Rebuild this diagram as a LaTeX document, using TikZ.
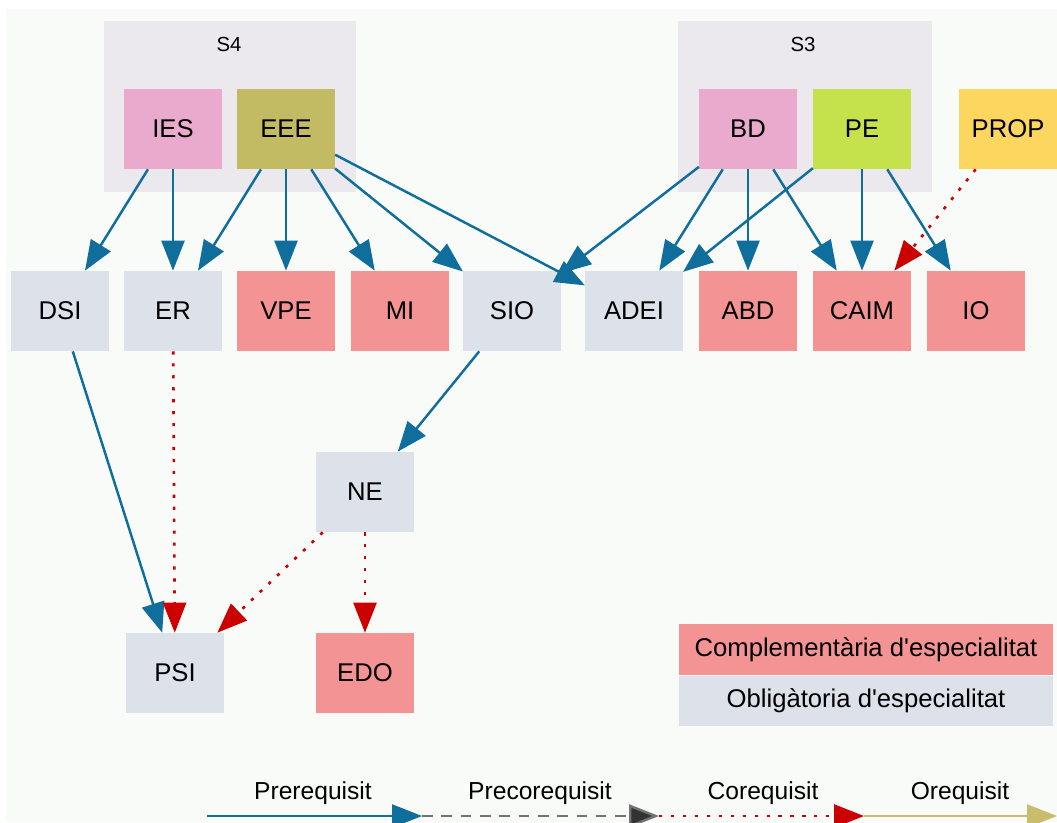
\documentclass[tikz,border=0pt]{standalone}
\usepackage{fontspec}
\setmainfont{Liberation Sans}
\usetikzlibrary{arrows.meta,positioning}
\definecolor{bgcol}{RGB}{249,251,249}
\definecolor{clustcol}{RGB}{235,233,237}
\definecolor{pinkcol}{RGB}{234,170,205}
\definecolor{olivecol}{RGB}{195,186,100}
\definecolor{greencol}{RGB}{197,225,75}
\definecolor{yellowcol}{RGB}{253,214,95}
\definecolor{obligcol}{RGB}{220,225,234}
\definecolor{compcol}{RGB}{244,147,148}
\definecolor{prereqcol}{RGB}{16,110,156}
\definecolor{coreqcol}{RGB}{204,0,0}
\definecolor{oreqcol}{RGB}{200,189,109}
\tikzset{
	subj/.style={minimum width=1.95cm, minimum height=1.6cm, inner sep=0pt, font=\fontsize{14.6}{17}\selectfont},
	oblig/.style={subj, fill=obligcol},
	comp/.style={subj, fill=compcol},
	tip/.style={-{Triangle[length=0.6cm, width=0.46cm, fill=#1]}},
	prereq/.style={draw=prereqcol, line width=1.4pt, tip=prereqcol},
	coreq/.style={draw=coreqcol, line width=1.5pt, dash pattern=on 1.8pt off 5pt, tip=coreqcol},
	precoreq/.style={draw=black!55, line width=1.4pt, dash pattern=on 6pt off 5pt, tip=black!80},
	oreq/.style={draw=oreqcol, line width=1.4pt, tip=oreqcol},
	leglabel/.style={font=\fontsize{14}{16}\selectfont, anchor=base}
}
\begin{document}
\begin{tikzpicture}[x=0.02cm, y=-0.02cm]
	\useasboundingbox (0,0) rectangle (1057,822);
	\fill[bgcol] (6,9) rectangle (1057,822);
	\fill[clustcol] (104,21) rectangle (356,192);
	\fill[clustcol] (678,21) rectangle (932,192);
	\node[font=\fontsize{11.6}{14}\selectfont] (S4) at (229,44) {S4};
	\node[font=\fontsize{11.6}{14}\selectfont] (S3) at (803,44) {S3};
	\node[subj, fill=pinkcol] (IES) at (173,129) {IES};
	\node[subj, fill=olivecol] (EEE) at (286,129) {EEE};
	\node[subj, fill=pinkcol] (BD) at (748,129) {BD};
	\node[subj, fill=greencol] (PE) at (862,129) {PE};
	\node[subj, fill=yellowcol] (PROP) at (1008,129) {PROP};
	\foreach \n/\x in {DSI/60,ER/173,SIO/512,ADEI/634} \node[oblig] (\n) at (\x,311) {\n};
	\foreach \n/\x in {VPE/286,MI/400,ABD/748,CAIM/862,IO/976} \node[comp] (\n) at (\x,311) {\n};
	\node[oblig] (NE) at (365,492) {NE};
	\node[oblig] (PSI) at (175,673) {PSI};
	\node[comp] (EDO) at (365,673) {EDO};
	\foreach \a/\b in {IES/DSI,IES/ER,EEE/ER,EEE/VPE,EEE/MI,EEE/SIO,EEE/ADEI,BD/SIO,BD/ADEI,BD/ABD,BD/CAIM,PE/ADEI,PE/CAIM,PE/IO,SIO/NE,DSI/PSI}
		\draw[prereq] (\a) -- (\b);
	\foreach \a/\b in {PROP/CAIM,ER/PSI,NE/PSI,NE/EDO}
		\draw[coreq] (\a) -- (\b);
	\node[fill=compcol, minimum width=7.48cm, minimum height=1.02cm, inner sep=0pt, font=\fontsize{14.6}{17}\selectfont] (legcomp) at (866,649.5) {Complement\`aria d\textquotesingle especialitat};
	\node[fill=obligcol, minimum width=7.48cm, minimum height=1.0cm, inner sep=0pt, font=\fontsize{14.6}{17}\selectfont, below=0pt of legcomp] (legoblig) {Oblig\`atoria d\textquotesingle especialitat};
	\coordinate (l0) at (207,816);
	\coordinate (l1) at (422,816);
	\coordinate (l2) at (659,816);
	\coordinate (l3) at (864,816);
	\coordinate (l4) at (1057,816);
	\draw[prereq] (l0) -- (l1);
	\draw[precoreq] (l1) -- (l2);
	\draw[coreq] (l2) -- (l3);
	\draw[oreq] (l3) -- (l4);
	\node[leglabel] (lprereq) at (313,799) {Prerequisit};
	\node[leglabel] (lprecoreq) at (540,799) {Precorequisit};
	\node[leglabel] (lcoreq) at (763,799) {Corequisit};
	\node[leglabel] (loreq) at (960,799) {Orequisit};
\end{tikzpicture}
\end{document}
